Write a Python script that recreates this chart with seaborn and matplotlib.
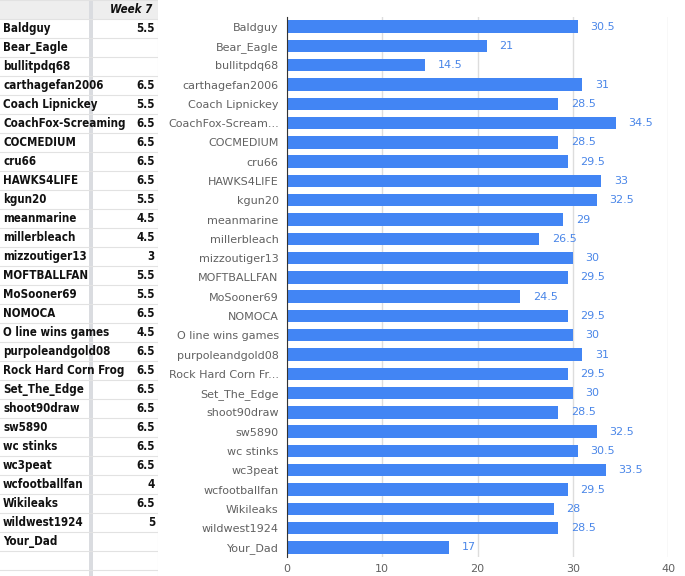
import pandas as pd
import matplotlib.pyplot as plt
import seaborn as sns
from matplotlib.patches import Rectangle

# data
players = ["Baldguy", "Bear_Eagle", "bullitpdq68", "carthagefan2006", "Coach Lipnickey",
           "CoachFox-Screaming", "COCMEDIUM", "cru66", "HAWKS4LIFE", "kgun20",
           "meanmarine", "millerbleach", "mizzoutiger13", "MOFTBALLFAN", "MoSooner69",
           "NOMOCA", "O line wins games", "purpoleandgold08", "Rock Hard Corn Frog",
           "Set_The_Edge", "shoot90draw", "sw5890", "wc stinks", "wc3peat",
           "wcfootballfan", "Wikileaks", "wildwest1924", "Your_Dad"]
chart_labels = ["Baldguy", "Bear_Eagle", "bullitpdq68", "carthagefan2006", "Coach Lipnickey",
                "CoachFox-Scream...", "COCMEDIUM", "cru66", "HAWKS4LIFE", "kgun20",
                "meanmarine", "millerbleach", "mizzoutiger13", "MOFTBALLFAN", "MoSooner69",
                "NOMOCA", "O line wins games", "purpoleandgold08", "Rock Hard Corn Fr...",
                "Set_The_Edge", "shoot90draw", "sw5890", "wc stinks", "wc3peat",
                "wcfootballfan", "Wikileaks", "wildwest1924", "Your_Dad"]
week7 = ["5.5", "", "", "6.5", "5.5", "6.5", "6.5", "6.5", "6.5", "5.5", "4.5", "4.5", "3",
         "5.5", "5.5", "6.5", "4.5", "6.5", "6.5", "6.5", "6.5", "6.5", "6.5", "6.5", "4",
         "6.5", "5", ""]
totals = [30.5, 21, 14.5, 31, 28.5, 34.5, 28.5, 29.5, 33, 32.5, 29, 26.5, 30, 29.5, 24.5,
          29.5, 30, 31, 29.5, 30, 28.5, 32.5, 30.5, 33.5, 29.5, 28, 28.5, 17]

df = pd.DataFrame({"player": chart_labels, "total": totals})

W, H = 685, 576
fig = plt.figure(figsize=(W / 100, H / 100), dpi=100)
fig.patch.set_facecolor("white")

# ---- spreadsheet part on the left ----
cond = dict(family=["Liberation Sans Narrow", "DejaVu Sans"], stretch="condensed",
            fontweight="bold", color="#111111", fontsize=8.3)
tb = fig.add_axes([0, 0, 158 / W, 1])
tb.set_xlim(0, 158)
tb.set_ylim(H, 0)
tb.axis("off")
row_h = 19
tb.fill_between([0, 89], 0, row_h, color="#eeeeee", lw=0)
tb.fill_between([93, 158], 0, row_h, color="#eeeeee", lw=0)
tb.fill_between([89, 93], 0, H, color="#dadce0", lw=0)
n_rows = (H // row_h) + 1
for i in range(n_rows + 1):
    tb.axhline(i * row_h, color="#e2e2e2", lw=0.8)
tb.axvline(157.5, color="#e2e2e2", lw=0.8)
tb.text(152, row_h / 2, "Week 7", ha="right", va="center", style="italic", **cond)

# names get cut at the column edge like in the sheet
col_a = Rectangle((0, 0), 89, H, transform=tb.transData, visible=False)
tb.add_patch(col_a)
for i, (name, val) in enumerate(zip(players, week7)):
    y = row_h * (i + 1.5)
    t = tb.text(3, y, name, ha="left", va="center", **cond)
    t.set_clip_path(col_a)
    if val:
        tb.text(155, y, val, ha="right", va="center", **cond)

# ---- bar chart ----
ax = fig.add_axes([287 / W, 1 - 557 / H, 381 / W, (557 - 17) / H])
sns.barplot(data=df, x="total", y="player", orient="h", color="#4285f4",
            saturation=1, width=0.64, ax=ax)
ax.set_xlim(0, 40)
ax.set_xticks([0, 10, 20, 30, 40])
ax.set_xlabel("")
ax.set_ylabel("")
ax.grid(axis="x", color="#dddddd", lw=1)
ax.set_axisbelow(True)
for s in ["top", "right", "bottom"]:
    ax.spines[s].set_visible(False)
ax.spines["left"].set_color("#333333")
ax.tick_params(length=0, labelsize=8, colors="#616161", pad=6)
ax.tick_params(axis="x", pad=5)
for c in ax.containers:
    ax.bar_label(c, labels=[f"{v:g}" for v in df["total"]], padding=9,
                 color="#4a86e8", fontsize=8)

fig.savefig("out.png", dpi=100)
